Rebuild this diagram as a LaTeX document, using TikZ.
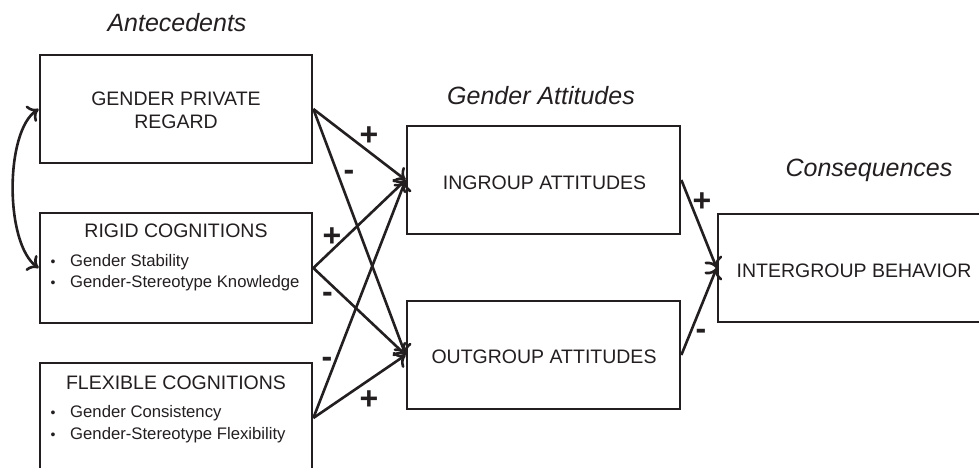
\documentclass[tikz,border=0pt]{standalone}
\usepackage{fontspec}
\setmainfont{Liberation Sans}
\usetikzlibrary{arrows.meta}
\definecolor{ink}{RGB}{35,31,32}
\tikzset{
  box/.style={draw=ink, rectangle, line width=2.7pt, inner sep=0pt},
  boxtext/.style={anchor=base, inner sep=0pt, text=ink, font=\fontsize{19.5}{23}\selectfont},
  bullettext/.style={anchor=base west, inner sep=0pt, text=ink, font=\fontsize{16.7}{20}\selectfont},
  bulletmark/.style={anchor=base, inner sep=0pt, text=ink, font=\fontsize{14}{16}\selectfont},
  title/.style={anchor=base, inner sep=0pt, text=ink, font=\fontsize{25}{30}\selectfont\itshape},
  sign/.style={anchor=center, inner sep=0pt, text=ink, font=\fontsize{32}{36}\selectfont\bfseries},
  tip/.style={Computer Modern Rightarrow[length=10pt,width=19pt]},
  conn/.style={draw=ink, line width=2.6pt, -{Computer Modern Rightarrow[length=10pt,width=19pt]}},
  dconn/.style={draw=ink, line width=2.6pt, {Computer Modern Rightarrow[length=10pt,width=19pt]}-{Computer Modern Rightarrow[length=10pt,width=19pt]}}
}
\begin{document}
\begin{tikzpicture}[x=1pt,y=-1pt]
\clip (0,0) rectangle (979,468);
\fill[white] (0,0) rectangle (979,468);

\node[box, minimum width=272pt, minimum height=108pt] (A) at (176,109) {};
\node[box, minimum width=272pt, minimum height=110pt] (B) at (176,268) {};
\node[box, minimum width=272pt, minimum height=110pt] (C) at (176,418) {};
\node[box, minimum width=273pt, minimum height=108pt] (In) at (543.5,180) {};
\node[box, minimum width=273pt, minimum height=108pt] (Out) at (543.5,355) {};
\node[box, minimum width=273pt, minimum height=108pt] (IB) at (854.5,268) {};

\node[title] (tAnte) at (177,32) {Antecedents};
\node[title] (tGA) at (541,105) {Gender Attitudes};
\node[title] (tCons) at (869,176) {Consequences};

\node[boxtext] (a1) at (176,106) {GENDER PRIVATE};
\node[boxtext] (a2) at (176,128.5) {REGARD};
\node[boxtext] (b1) at (176,237) {RIGID COGNITIONS};
\node[bulletmark] (bb1) at (53,266) {\textbullet};
\node[bullettext] (b2) at (70,266) {Gender Stability};
\node[bulletmark] (bb2) at (53,287.5) {\textbullet};
\node[bullettext] (b3) at (70,287.5) {Gender-Stereotype Knowledge};
\node[boxtext] (c1) at (176,389) {FLEXIBLE COGNITIONS};
\node[bulletmark] (cb1) at (53,417) {\textbullet};
\node[bullettext] (c2) at (70,417) {Gender Consistency};
\node[bulletmark] (cb2) at (53,439) {\textbullet};
\node[bullettext] (c3) at (70,439) {Gender-Stereotype Flexibility};
\node[boxtext] (in1) at (544.5,189) {INGROUP ATTITUDES};
\node[boxtext] (out1) at (544,363) {OUTGROUP ATTITUDES};
\node[boxtext] (ib1) at (854,277) {INTERGROUP BEHAVIOR};

\draw[conn] (A.east) -- (In.west);
\draw[conn] (A.east) -- (Out.west);
\draw[conn] (B.east) -- (In.west);
\draw[conn] (B.east) -- (Out.west);
\draw[conn] (C.east) -- (In.west);
\draw[conn] (C.east) -- (Out.west);
\draw[conn] (In.east) -- (IB.west);
\draw[conn] (Out.east) -- (IB.west);
\draw[dconn] (A.west) .. controls +(-34,22) and +(-34,-24) .. (B.west);

\node[sign] (s1) at (369,136) {+};
\node[sign] (s2) at (349,175) {-};
\node[sign] (s3) at (332,237) {+};
\node[sign] (s4) at (327.5,297) {-};
\node[sign] (s5) at (327,362) {-};
\node[sign] (s6) at (369,400) {+};
\node[sign] (s7) at (702,202) {+};
\node[sign] (s8) at (701,334) {-};
\end{tikzpicture}
\end{document}
